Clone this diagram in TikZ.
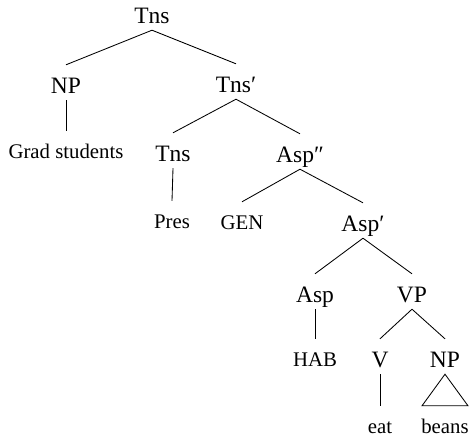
\documentclass[tikz,border=0pt]{standalone}
\usepackage{fontspec}
\setmainfont{Liberation Serif}
\begin{document}
\begin{tikzpicture}[x=1pt,y=-1pt,
  phr/.style={font=\fontsize{23.5}{28}\selectfont, anchor=base, text height=21pt, text depth=0pt, inner ysep=7pt, inner xsep=0pt},
  term/.style={font=\fontsize{20.8}{25}\selectfont, anchor=base, text height=20pt, text depth=0pt, inner ysep=7pt, inner xsep=0pt},
  leaf/.style={term, text height=25pt, inner ysep=2pt},
  br/.style={line width=0.85pt}]
\useasboundingbox (0,0) rectangle (469,437);
\node[phr] (tns) at (152,23) {Tns};
\node[phr] (np1) at (66,93) {NP};
\node[phr] (tnsb) at (236,92) {Tns′};
\node[term] (gs) at (66,158) {Grad students};
\node[phr] (tns2) at (173,161) {Tns};
\node[phr] (aspbb) at (300,162) {Asp″};
\node[term] (pres) at (172,228) {Pres};
\node[term] (gen) at (242,229) {GEN};
\node[phr] (aspb) at (363,231) {Asp′};
\node[phr] (asp) at (315,302) {Asp};
\node[phr] (vp) at (412,302) {VP};
\node[term] (hab) at (315,366) {HAB};
\node[phr] (v) at (380,367) {V};
\node[phr] (np2) at (445,367) {NP};
\node[leaf] (eat) at (380,433) {eat};
\node[leaf] (beans) at (445,433) {beans};
\draw[br] (tns.south) -- (np1.north);
\draw[br] (tns.south) -- (tnsb.north);
\draw[br] (np1.south) -- (gs.north);
\draw[br] (tnsb.south) -- (tns2.north);
\draw[br] (tnsb.south) -- (aspbb.north);
\draw[br] (tns2.south) -- (pres.north);
\draw[br] (aspbb.south) -- (gen.north);
\draw[br] (aspbb.south) -- (aspb.north);
\draw[br] (aspb.south) -- (asp.north);
\draw[br] (aspb.south) -- (vp.north);
\draw[br] (asp.south) -- (hab.north);
\draw[br] (vp.south) -- (v.north);
\draw[br] (vp.south) -- (np2.north);
\draw[br] (v.south) -- (eat.north);
\draw[br] (np2.south) -- ([xshift=-23pt]beans.north) -- ([xshift=23pt]beans.north) -- cycle;
\end{tikzpicture}
\end{document}
